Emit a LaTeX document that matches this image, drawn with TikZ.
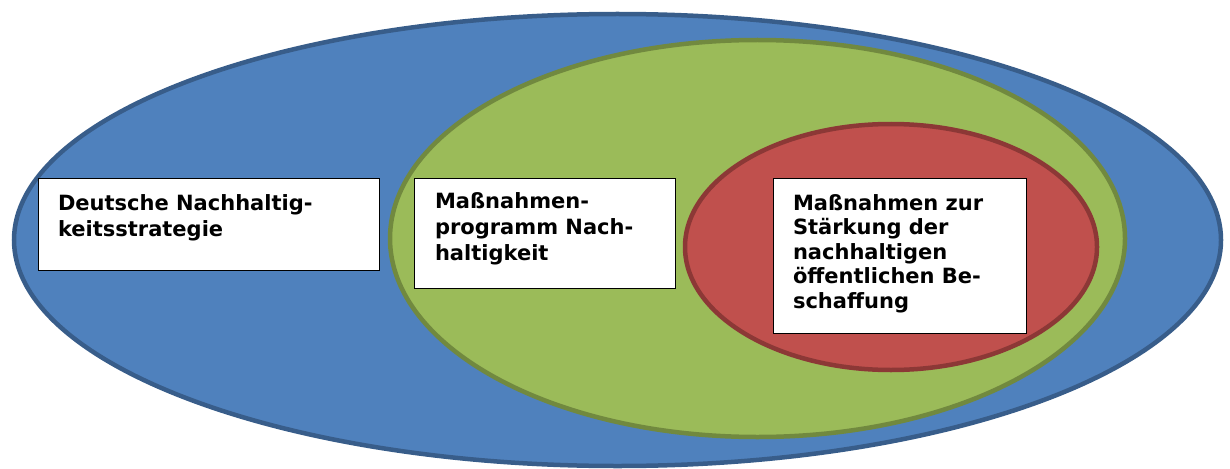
\documentclass[tikz,border=0pt]{standalone}
\usepackage{fontspec}
\setmainfont{DejaVu Sans}
\definecolor{blueFill}{HTML}{4F81BD}
\definecolor{blueLine}{HTML}{385D8A}
\definecolor{greenFill}{HTML}{9BBB59}
\definecolor{greenLine}{HTML}{71893F}
\definecolor{redFill}{HTML}{C0504D}
\definecolor{redLine}{HTML}{8C3836}
\begin{document}
\begin{tikzpicture}[x=1pt,y=-1pt,
  ring/.style={line width=4.5pt},
  box/.style={draw=black, line width=0.9pt, fill=white, inner sep=0pt, outer sep=0pt, anchor=north west},
  boxtext/.style={font=\bfseries\fontsize{21}{26}\selectfont, align=left, anchor=base west, inner sep=0pt, outer sep=0pt}]
\useasboundingbox (0,0) rectangle (1230,468);
\draw[ring, fill=blueFill, draw=blueLine] (617.5,240) ellipse [x radius=603.5pt, y radius=226pt];
\draw[ring, fill=greenFill, draw=greenLine] (757.5,238.5) ellipse [x radius=367.5pt, y radius=198.5pt];
\draw[ring, fill=redFill, draw=redLine] (891,247) ellipse [x radius=206pt, y radius=123pt];
\node[box, minimum width=341pt, minimum height=92pt] (b1) at (38,178) {};
\node[box, minimum width=261pt, minimum height=110pt] (b2) at (414,178) {};
\node[box, minimum width=253pt, minimum height=155pt] (b3) at (773,178) {};
% anchor is the baseline of the last line
\node[boxtext] (t1) at (58,236) {Deutsche Nachhaltig-\\keitsstrategie};
\node[boxtext] (t2) at (435,260) {Maßnahmen-\\programm Nach-\\haltigkeit};
\node[boxtext, font=\bfseries\fontsize{21}{24.5}\selectfont] (t3) at (793,308) {Maßnahmen zur\\Stärkung der\\nachhaltigen\\öffentlichen Be-\\schaffung};
\end{tikzpicture}
\end{document}
